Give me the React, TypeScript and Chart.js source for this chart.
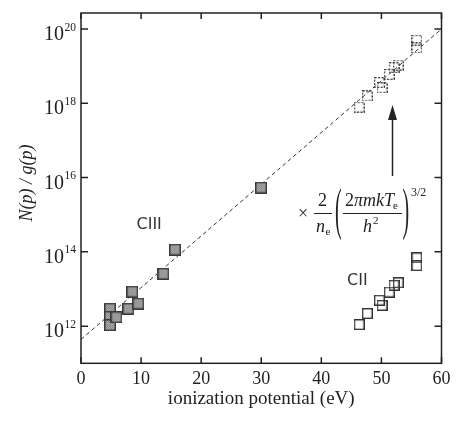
import { useEffect, useRef } from 'react';
import { Chart, registerables } from 'chart.js';

Chart.register(...registerables);

// ---- data ----
const xTickValues = [0, 10, 20, 30, 40, 50, 60];
const yTickExponents = [12, 14, 16, 18, 20];

const ciiiEnergy = [4.83, 4.83, 4.83, 5.9, 7.87, 8.54, 9.54, 13.7, 15.65, 29.96];
const ciiiPop = [2.95e12, 1.78e12, 1.07e12, 1.74e12, 2.95e12, 8.5e12, 4.07e12, 2.57e13, 1.15e14, 5.37e15];

const ciiEnergy = [46.3, 47.65, 49.65, 50.1, 51.3, 52.1, 52.8, 55.9, 55.9];
const ciiPop = [1.1e12, 2.19e12, 5.0e12, 3.63e12, 8.3e12, 1.26e13, 1.48e13, 6.9e13, 4.27e13];
const ciiScaledPop = [7.9e17, 1.58e18, 3.63e18, 2.63e18, 6.0e18, 9.1e18, 1.07e19, 5.0e19, 3.1e19];

const fitEnergy = [0, 60];
const fitPop = [4.4e11, 1.0e20];

const SERIF = '"Liberation Serif", "Times New Roman", serif';
const SANS = '"DejaVu Sans", sans-serif';
const INK = '#222';

function makeMarker(kind: 'filled' | 'open' | 'dashed'): HTMLCanvasElement {
  const c = document.createElement('canvas');
  const s = kind === 'filled' ? 12 : 11;
  c.width = s;
  c.height = s;
  const ctx = c.getContext('2d')!;
  if (kind === 'filled') {
    for (let i = 0; i < s; i++) {
      for (let j = 0; j < s; j++) {
        ctx.fillStyle = (i + j) % 2 === 0 ? '#777777' : '#bdbdbd';
        ctx.fillRect(i, j, 1, 1);
      }
    }
    ctx.strokeStyle = '#3a3a3a';
    ctx.lineWidth = 1.5;
    ctx.strokeRect(0.75, 0.75, s - 1.5, s - 1.5);
  } else if (kind === 'open') {
    ctx.strokeStyle = '#333';
    ctx.lineWidth = 1.4;
    ctx.strokeRect(0.7, 0.7, s - 1.4, s - 1.4);
  } else {
    ctx.strokeStyle = '#333';
    ctx.lineWidth = 1.3;
    ctx.setLineDash([2, 1.5]);
    ctx.strokeRect(0.65, 0.65, s - 1.3, s - 1.3);
  }
  return c;
}

const decor = {
  id: 'decor',
  afterDraw(chart: any) {
    const { ctx, chartArea } = chart;
    const { left, right, top, bottom } = chartArea;
    const xs = chart.scales.x;
    const ys = chart.scales.y;
    ctx.save();
    ctx.strokeStyle = INK;
    ctx.fillStyle = INK;
    ctx.lineWidth = 1.5;
    ctx.strokeRect(left, top, right - left, bottom - top);

    // ticks
    ctx.beginPath();
    xTickValues.forEach((v) => {
      const px = xs.getPixelForValue(v);
      ctx.moveTo(px, bottom);
      ctx.lineTo(px, bottom - 6);
      ctx.moveTo(px, top);
      ctx.lineTo(px, top + 6);
    });
    yTickExponents.forEach((e) => {
      const py = ys.getPixelForValue(Math.pow(10, e));
      ctx.moveTo(left, py);
      ctx.lineTo(left + 7, py);
      ctx.moveTo(right, py);
      ctx.lineTo(right - 7, py);
    });
    ctx.stroke();

    // x tick labels
    ctx.font = `18px ${SERIF}`;
    ctx.textAlign = 'center';
    ctx.textBaseline = 'alphabetic';
    xTickValues.forEach((v) => {
      ctx.fillText(String(v), xs.getPixelForValue(v), 384);
    });

    // y tick labels with superscripts
    yTickExponents.forEach((e) => {
      const py = ys.getPixelForValue(Math.pow(10, e));
      ctx.font = `20px ${SERIF}`;
      ctx.textAlign = 'right';
      ctx.fillText('10', 64, py + 11);
      ctx.font = `11.5px ${SERIF}`;
      ctx.textAlign = 'left';
      ctx.fillText(String(e), 64.5, py + 1.5);
    });

    // axis titles
    ctx.font = `19px ${SERIF}`;
    ctx.textAlign = 'center';
    ctx.fillText('ionization potential (eV)', (left + right) / 2, 404);
    ctx.save();
    ctx.translate(32, 183);
    ctx.rotate(-Math.PI / 2);
    ctx.font = `italic 18px ${SERIF}`;
    ctx.fillText('N(p) / g(p)', 0, 0);
    ctx.restore();

    // species labels
    ctx.font = `16px ${SANS}`;
    ctx.textAlign = 'left';
    ctx.fillStyle = '#333';
    ctx.fillText('CIII', 136.5, 228.5);
    ctx.fillText('CII', 347, 284.5);
    ctx.fillStyle = INK;

    // formula
    ctx.textAlign = 'left';
    ctx.font = `18px ${SERIF}`;
    ctx.fillText('×', 298, 219);
    ctx.textAlign = 'center';
    ctx.fillText('2', 322.5, 206);
    ctx.lineWidth = 1;
    ctx.beginPath();
    ctx.moveTo(314, 213.5);
    ctx.lineTo(332, 213.5);
    ctx.moveTo(343, 213.5);
    ctx.lineTo(402, 213.5);
    ctx.stroke();
    ctx.textAlign = 'left';
    ctx.font = `italic 18px ${SERIF}`;
    ctx.fillText('n', 316, 232);
    ctx.font = `11px ${SERIF}`;
    ctx.fillText('e', 325.5, 235);

    const paren = (ch: string, x: number) => {
      ctx.save();
      ctx.translate(x, 227.5);
      ctx.scale(1, 2.85);
      ctx.font = `20px ${SERIF}`;
      ctx.textAlign = 'left';
      ctx.fillText(ch, 0, 0);
      ctx.restore();
    };
    paren('(', 335);
    paren(')', 402.5);

    ctx.font = `18px ${SERIF}`;
    ctx.fillText('2', 345, 206);
    let x = 345 + ctx.measureText('2').width;
    ctx.font = `italic 18px ${SERIF}`;
    ctx.fillText('πmkT', x, 206);
    x += ctx.measureText('πmkT').width;
    ctx.font = `11px ${SERIF}`;
    ctx.fillText('e', x - 1, 209);

    ctx.font = `italic 18px ${SERIF}`;
    ctx.fillText('h', 363, 232);
    ctx.font = `11px ${SERIF}`;
    ctx.fillText('2', 373, 224);
    ctx.font = `12px ${SERIF}`;
    ctx.fillText('3/2', 411, 196);

    // arrow
    ctx.lineWidth = 1.5;
    ctx.beginPath();
    ctx.moveTo(392.5, 176);
    ctx.lineTo(392.5, 117);
    ctx.stroke();
    ctx.beginPath();
    ctx.moveTo(392.5, 105);
    ctx.lineTo(388, 120);
    ctx.lineTo(397, 120);
    ctx.closePath();
    ctx.fill();

    ctx.restore();
  },
};

export default function App() {
  const ref = useRef<HTMLCanvasElement>(null);
  useEffect(() => {
    if (!ref.current) return;
    const filled = makeMarker('filled');
    const open = makeMarker('open');
    const dashed = makeMarker('dashed');
    const pts = (xs: number[], ys: number[]) => xs.map((x, i) => ({ x, y: ys[i] }));
    const chart = new Chart(ref.current, {
      type: 'scatter',
      data: {
        datasets: [
          {
            label: 'fit',
            data: pts(fitEnergy, fitPop),
            showLine: true,
            borderColor: '#333',
            borderWidth: 1,
            borderDash: [4, 3],
            pointRadius: 0,
            order: 4,
          },
          {
            label: 'CII scaled',
            data: pts(ciiEnergy, ciiScaledPop),
            pointStyle: dashed as any,
            pointRadius: 5,
            order: 3,
          },
          {
            label: 'CII',
            data: pts(ciiEnergy, ciiPop),
            pointStyle: open as any,
            pointRadius: 5,
            order: 2,
          },
          {
            label: 'CIII',
            data: pts(ciiiEnergy, ciiiPop),
            pointStyle: filled as any,
            pointRadius: 5,
            order: 1,
          },
        ],
      },
      options: {
        responsive: false,
        animation: false,
        layout: { padding: { left: 81, right: 17.5, top: 13, bottom: 59.7 } },
        scales: {
          x: { type: 'linear', min: 0, max: 60, display: false },
          y: { type: 'logarithmic', min: 1e11, max: 2.7e20, display: false },
        },
        plugins: { legend: { display: false }, tooltip: { enabled: false } },
      },
      plugins: [decor],
    });
    return () => chart.destroy();
  }, []);
  return (
    <div style={{ position: 'absolute', left: 0, top: 0, width: 459, height: 423, background: '#fff' }}>
      <canvas ref={ref} width={459} height={423} />
    </div>
  );
}
